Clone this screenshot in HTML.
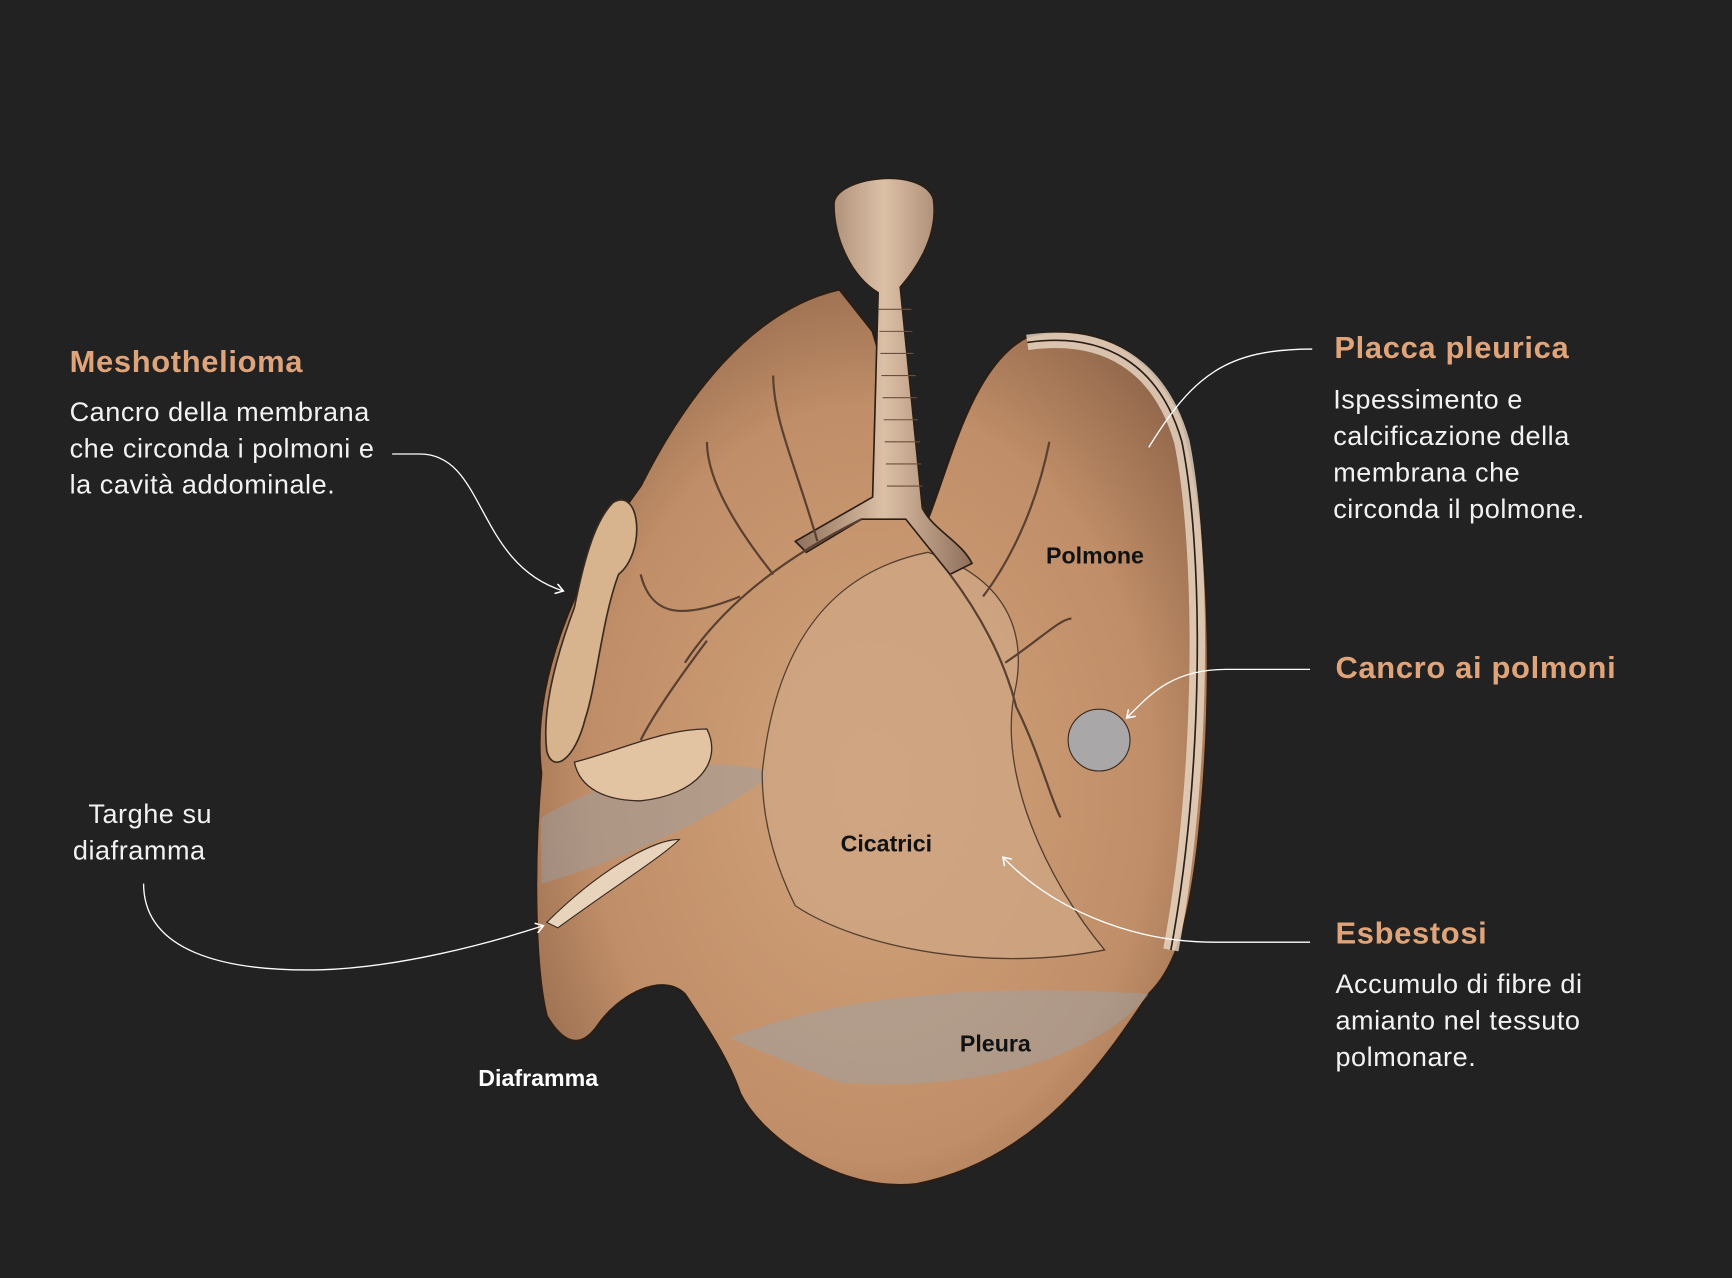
<!DOCTYPE html>
<html><head><meta charset="utf-8"><style>
html,body{margin:0;padding:0;background:#222222;}
svg{display:block}
</style></head><body>
<svg width="1732" height="1278" viewBox="0 0 1568 1157" xmlns="http://www.w3.org/2000/svg">
<defs>
<radialGradient id="lg" cx="0.5" cy="0.55" r="0.6">
<stop offset="0" stop-color="#d2a47c"/>
<stop offset="0.7" stop-color="#c08e68"/>
<stop offset="1" stop-color="#94694c"/>
</radialGradient>
<linearGradient id="tr" x1="0" x2="1">
<stop offset="0" stop-color="#8f6f5a"/><stop offset="0.5" stop-color="#dcc0a6"/><stop offset="1" stop-color="#8f6f5a"/>
</linearGradient>
<marker id="ar" markerWidth="8" markerHeight="8" refX="6" refY="4" orient="auto"><path d="M0,0 L6,4 L0,8" fill="none" stroke="#fff" stroke-width="1.2"/></marker>
</defs>
<rect width="1568" height="1157" fill="#222"/>
<path d="M490,700 C480,620 520,520 580,440 C620,360 680,280 760,262 L790,300 L840,470 C860,420 880,330 930,305 C980,290 1040,310 1070,380 C1095,470 1100,620 1085,760 C1075,850 1060,880 1040,900 C1000,960 940,1050 830,1072 C760,1080 690,1030 670,990 C660,960 640,930 620,900 C600,880 560,900 540,930 C525,950 510,945 495,920 C485,880 482,790 490,700 Z" fill="url(#lg)" stroke="#2a1e16" stroke-width="2"/>
<path d="M490,740 C560,700 640,680 700,700 C650,740 560,780 490,800 Z" fill="#9aa0a8" opacity="0.45"/>
<path d="M660,940 C760,900 900,890 1040,900 C1000,950 900,990 760,980 Z" fill="#9aa4ae" opacity="0.45"/>
<path d="M690,700 C700,600 740,520 840,500 C900,520 930,560 920,620 C900,700 950,800 1000,860 C900,880 780,860 720,820 C700,780 690,740 690,700 Z" fill="#cfa684" opacity="0.8" stroke="#3a2a20" stroke-width="1.2"/>
<path d="M930,310 C1000,300 1050,330 1070,400 C1090,500 1090,700 1060,860" fill="none" stroke="#e8d8c6" stroke-width="14" opacity="0.8"/>
<path d="M930,310 C1000,300 1050,330 1070,400 C1090,500 1090,700 1060,860" fill="none" stroke="#2a1e16" stroke-width="1.5"/>
<path d="M555,455 C580,440 585,500 560,520 C545,560 540,620 530,650 C520,690 500,700 495,680 C490,640 505,590 520,550 C530,500 540,470 555,455 Z" fill="#d8b48e" stroke="#3a2a20" stroke-width="1.5"/>
<path d="M520,690 C560,680 600,660 640,660 C655,690 630,720 580,725 C550,725 525,715 520,690 Z" fill="#e2c4a2" stroke="#3a2a20" stroke-width="1.2"/>
<path d="M495,835 C540,790 590,760 615,760 C600,775 560,800 505,840 Z" fill="#e8d4bc" stroke="#3a2a20"/>
<path d="M755,185 C755,160 835,150 845,180 C850,215 828,245 815,260 L835,460 C845,480 870,490 880,510 L860,520 L820,470 L780,470 L730,500 L720,490 L790,450 L795,265 C770,250 755,215 755,185 Z" fill="url(#tr)" stroke="#2a1e16" stroke-width="1.5"/>
<g stroke="#6a4e3c" stroke-width="1" fill="none">
<path d="M795,280h30M796,300h30M797,320h30M798,340h31M799,360h31M800,380h31M801,400h32M802,420h32M803,440h32"/>
</g>
<g stroke="#5a4030" stroke-width="2" fill="none">
<path d="M780,470 C720,500 660,540 620,600 M700,520 C660,470 640,430 640,400 M740,490 C720,420 700,380 700,340 M670,540 C620,560 590,560 580,520 M640,580 C610,620 590,650 580,670"/>
<path d="M860,520 C890,560 910,600 920,640 M890,540 C920,500 940,450 950,400 M910,600 C940,580 960,560 970,560 M920,640 C940,680 950,720 960,740"/>
</g>
<circle cx="995" cy="670" r="28" fill="#a9a7a8" stroke="#3a2a20"/>
<g fill="none" stroke="#fff" stroke-width="1.2">
<path d="M355,411 L380,411 C440,411 430,510 510,535" marker-end="url(#ar)"/>
<path d="M1188,316 C1110,316 1080,340 1040,405"/>
<path d="M1186,606 L1110,606 C1060,606 1040,630 1020,650" marker-end="url(#ar)"/>
<path d="M1186,853 L1100,853 C1020,853 950,820 908,776" marker-end="url(#ar)"/>
<path d="M130,800 C130,860 200,880 290,878 C360,876 440,855 492,838" marker-end="url(#ar)"/>
</g>
<g font-family="Liberation Sans, sans-serif">
<text x="63" y="337" font-size="28" font-weight="bold" letter-spacing="0.6" fill="#e0a47a">Meshothelioma</text>
<g font-size="24.5" fill="#f2f2f2" letter-spacing="0.5">
<text x="63" y="381">Cancro della membrana</text>
<text x="63" y="414">che circonda i polmoni e</text>
<text x="63" y="447">la cavità addominale.</text>
<text x="1207" y="370">Ispessimento e</text>
<text x="1207" y="403">calcificazione della</text>
<text x="1207" y="436">membrana che</text>
<text x="1207" y="469">circonda il polmone.</text>
<text x="1209" y="899">Accumulo di fibre di</text>
<text x="1209" y="932">amianto nel tessuto</text>
<text x="1209" y="965">polmonare.</text>
<text x="80" y="745">Targhe su</text>
<text x="66" y="778">diaframma</text>
</g>
<g font-size="28" font-weight="bold" letter-spacing="0.6" fill="#e0a47a">
<text x="1208" y="324">Placca pleurica</text>
<text x="1209" y="614">Cancro ai polmoni</text>
<text x="1209" y="854">Esbestosi</text>
</g>
<g font-size="21" font-weight="bold">
<text x="947" y="510" fill="#111">Polmone</text>
<text x="761" y="771" fill="#111">Cicatrici</text>
<text x="869" y="952" fill="#111">Pleura</text>
<text x="433" y="983" fill="#fff">Diaframma</text>
</g>
</g>
</svg>
</body></html>
